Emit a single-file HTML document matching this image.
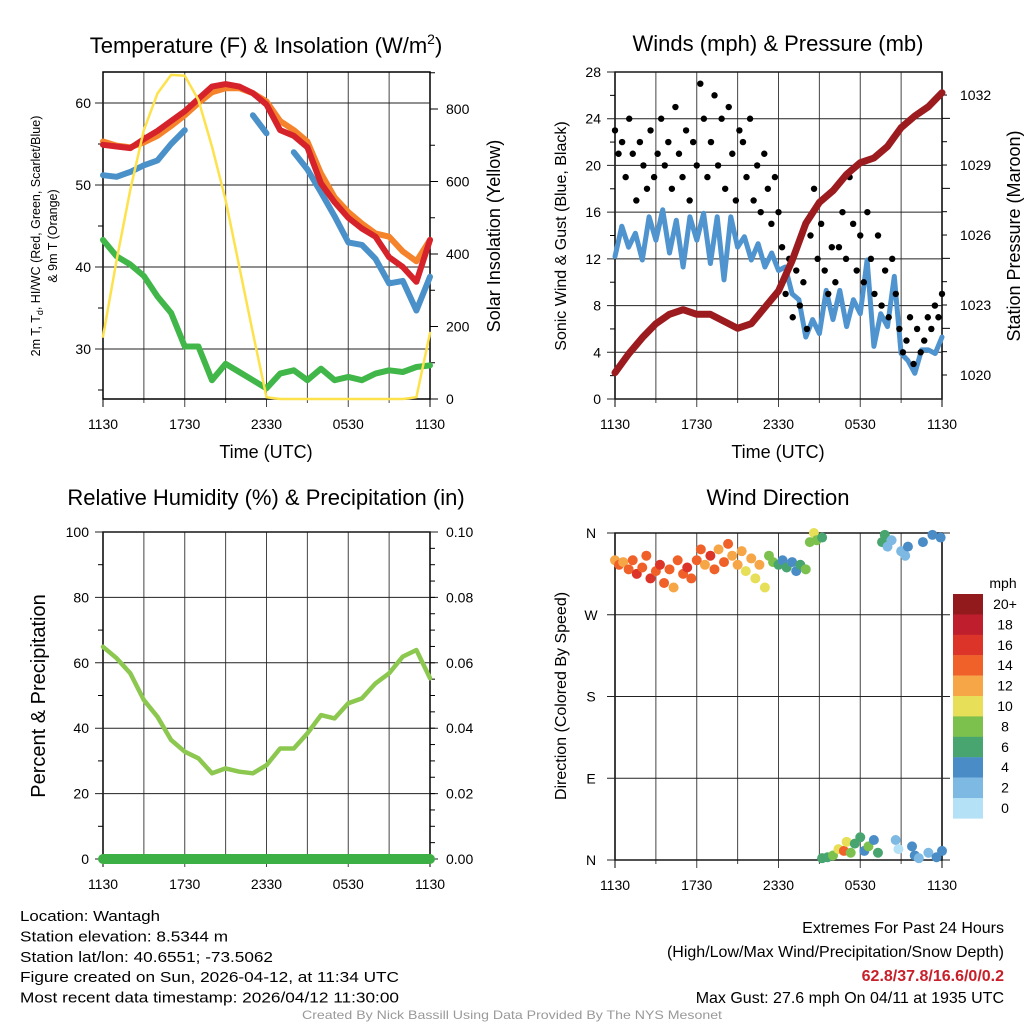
<!DOCTYPE html>
<html><head><meta charset="utf-8"><style>
html,body{margin:0;padding:0;background:#fff;}
svg{display:block;font-family:"Liberation Sans",Arial,sans-serif;}
</style></head><body>
<svg id="c" width="1024" height="1024" viewBox="0 0 1024 1024" xmlns="http://www.w3.org/2000/svg"></svg>
<script>
// ---------- DATA ----------
const hours = [0,1,2,3,4,5,6,7,8,9,10,11,12,13,14,15,16,17,18,19,20,21,22,23,24];
const tempRed = [54.9,54.7,54.5,55.6,56.6,57.8,59.0,60.5,62.0,62.3,62.0,61.2,59.8,56.7,56.0,54.6,50.2,47.9,46.0,44.7,43.7,41.2,40.0,38.2,43.3];
const tempOrange = [55.3,54.8,54.6,55.2,56.0,57.2,58.5,60.0,61.3,61.8,61.8,61.2,60.2,57.8,56.7,55.3,51.4,48.5,46.7,45.3,44.1,43.7,41.9,40.7,43.3];
const tempBlue = [51.2,51.0,51.6,52.4,53.0,55.0,56.7,null,null,null,null,58.5,56.3,null,54.0,51.9,49.1,46.2,43.0,42.7,41.0,38.0,38.3,34.7,38.8];
const dewGreen = [43.3,41.3,40.3,38.9,36.4,34.4,30.3,30.3,26.2,28.2,27.2,26.2,25.2,27.0,27.4,26.2,27.6,26.2,26.6,26.2,27.0,27.4,27.2,27.8,28.0];
const insolation = [172,383,577,742,843,894,892,825,696,549,365,182,5,0,0,0,0,0,0,0,0,0,0,5,182];
const pressure = [1020.1,1020.9,1021.6,1022.2,1022.6,1022.8,1022.6,1022.6,1022.3,1022.0,1022.2,1022.9,1023.6,1024.9,1026.5,1027.4,1027.9,1028.6,1029.1,1029.3,1029.8,1030.6,1031.1,1031.5,1032.1];
const windSpeed = [12.2,14.8,13.0,14.2,11.9,15.6,13.6,16.2,12.5,15.3,11.3,15.6,13.6,15.9,11.6,15.6,10.2,15.6,13.0,13.9,11.9,13.3,11.3,12.5,11.0,11.3,9.0,8.5,5.3,6.8,5.6,9.3,6.8,9.3,6.2,8.5,7.3,11.9,4.5,7.3,6.2,10.5,3.9,3.3,2.2,4.2,4.2,3.9,5.3];
const gusts = [23,21,22,19,24,21,17,22,20,18,23,19,21,24,20,22,18,25,21,19,23,17,22,20,27,24,19,22,26,20,24,18,25,21,17,23,22,19,24,17,20,16,21,18,15,19,16,13,9,12,7,11,8,10,6,14,18,12,15,11,9,13,10,13,16,12,19,15,11,14,10,16,12,9,14,8,11,7,12,9,6,4,5,7,3,6,4,5,7,6,8,7,9];
const rh = [64.9,61.4,56.8,48.6,43.5,36.4,32.8,30.8,26.2,27.7,26.7,26.2,28.7,33.8,33.8,38.4,44.0,43.0,47.6,49.1,53.7,56.8,61.9,63.9,55.3];
const precip = [0,0,0,0,0,0,0,0,0,0,0,0,0,0,0,0,0,0,0,0,0,0,0,0,0];
const dirHours = [0,0.3,0.6,1,1.3,1.6,2,2.3,2.6,3,3.3,3.6,4,4.3,4.6,5,5.3,5.6,6,6.3,6.6,7,7.3,7.6,8,8.3,8.6,9,9.3,9.6,10,10.3,10.6,11,11.3,11.6,12,12.3,12.6,13,13.3,13.6,14,14.3,14.6,14.8,15.2,15.2,15.6,16,16.4,16.8,17,17.3,17.6,18,18.3,18.6,19,19.3,19.6,19.8,20,20.3,20.6,20.8,21,21.3,21.5,21.8,22,22.3,22.6,23,23.3,23.6,23.9,24];
const dirDeg = [330,325,328,320,330,315,322,335,310,318,325,305,320,300,330,315,322,310,330,342,325,335,320,342,328,348,335,325,340,318,332,310,325,300,335,328,325,330,322,328,318,325,320,350,360,352,355,2,3,5,12,10,20,8,18,25,10,15,22,8,350,358,345,352,22,12,340,335,345,15,5,2,350,8,358,3,355,10];
const dirSpeed = [13,14,13,15,14,16,15,14,16,14,17,15,14,12,14,15,16,14,15,14,13,17,14,13,15,14,12,13,12,11,12,10,12,10,8,9,6,4,6,4,5,6,8,8,10,9,6,7,6,8,10,14,11,8,7,6,5,9,4,6,7,6,3,2,2,1,2,3,4,4,4,3,4,2,4,5,4,4];
const speedLabels = ["20+","18","16","14","12","10","8","6","4","2","0"];
const speedColors = ["#921a1d","#bf1e2d","#dd3429","#ef6129","#f6a646","#e6df57","#7cc14d","#48a56f","#4a8dc6","#7db9e3","#b4e1f6"];
const timeLabels = ["1130","1730","2330","0530","1130"];

// ---------- HELPERS ----------
const NS="http://www.w3.org/2000/svg";
const svg=document.getElementById('c');
function mk(tag,attrs,parent){const e=document.createElementNS(NS,tag);for(const k in attrs)e.setAttribute(k,attrs[k]);(parent||svg).appendChild(e);return e;}
function txt(s,x,y,size,anchor,extra){const e=mk('text',Object.assign({x:x,y:y,'font-size':size,'text-anchor':anchor||'middle',fill:'#000'},extra||{}));e.textContent=s;return e;}
function lin(x1,y1,x2,y2,col,w){return mk('line',{x1:x1,y1:y1,x2:x2,y2:y2,stroke:col||'#000','stroke-width':w||1});}
function poly(xs,ys,fx,fy,col,w){let segs=[],cur=[];for(let i=0;i<xs.length;i++){if(ys[i]===null){if(cur.length)segs.push(cur);cur=[];continue;}cur.push(fx(xs[i]).toFixed(1)+','+fy(ys[i]).toFixed(1));}if(cur.length)segs.push(cur);return segs.map(s=>mk('polyline',{points:s.join(' '),fill:'none',stroke:col,'stroke-width':w,'stroke-linejoin':'round','stroke-linecap':'round'}));}
function speedColor(s){let i=Math.floor(s/2);if(i>10)i=10;return speedColors[10-i];}

function frame(P,name){
  for(let h=3;h<24;h+=3){const x=P.x0+(P.x1-P.x0)*h/24;const l=lin(x,P.y0,x,P.y1+(h%6==0?8:4),'#444',1);}
  const r=mk('rect',{x:P.x0,y:P.y0,width:P.x1-P.x0,height:P.y1-P.y0,fill:'none',stroke:'#000','stroke-width':1.5});
  
  
  lin(P.x0,P.y1,P.x0,P.y1+8);lin(P.x1,P.y1,P.x1,P.y1+8);
  for(let i=0;i<5;i++){const x=P.x0+(P.x1-P.x0)*i/4;const t=txt(timeLabels[i],x,P.y1+30,14);}
}
function rot(s,x,y,size,name){const t=txt(s,x,y,size,'middle',{transform:'rotate(-90 '+x+' '+y+')'});return t;}

// ---------- PANEL 1: Temperature ----------
const P1={x0:103,x1:430,y0:72,y1:399};
const x1f=h=>P1.x0+(P1.x1-P1.x0)*h/24;
const tY=T=>103+(60-T)*8.2;
const iY=I=>399-I*0.3625;
frame(P1,'temp-panel');
[30,40,50,60].forEach(v=>{lin(P1.x0-8,tY(v),P1.x1,tY(v),'#222',1);const t=txt(String(v),P1.x0-12,tY(v)+5,14,'end');});
[25,35,45,55].forEach(v=>lin(P1.x0-5,tY(v),P1.x0,tY(v)));
for(let v=0;v<=900;v+=100){lin(P1.x1,iY(v),P1.x1+(v%200==0?8:5),iY(v));}
[0,200,400,600,800].forEach(v=>{const t=txt(String(v),P1.x1+16,iY(v)+5,14,'start');});
let s;
s=poly(hours,dewGreen,x1f,tY,'#41b649',6);s.forEach(e=>{});
s=poly(hours,tempBlue,x1f,tY,'#4a90c9',6);s.forEach(e=>{});
s=poly(hours,tempOrange,x1f,tY,'#f5832b',6);s.forEach(e=>{});
s=poly(hours,tempRed,x1f,tY,'#d6222a',6);s.forEach(e=>{});
s=poly(hours,insolation,x1f,iY,'#fde24c',2.5);s.forEach(e=>{});
let t;
t=mk('text',{x:266,y:53,'font-size':22,'text-anchor':'middle'});t.innerHTML='Temperature (F) &amp; Insolation (W/m<tspan dy="-9" font-size="14">2</tspan><tspan dy="9">)</tspan>';


t=txt('Time (UTC)',266,458,18);
t=mk('text',{x:40,y:236,'font-size':12.5,'text-anchor':'middle',transform:'rotate(-90 40 236)'});t.innerHTML='2m T, T<tspan dy="3" font-size="9">d</tspan><tspan dy="-3">, HI/WC (Red, Green, Scarlet/Blue)</tspan>';


rot('& 9m T (Orange)',57,236,12.5,'temp-y-axis-title-line2');
rot('Solar Insolation (Yellow)',500,236,18,'insolation-y-axis-title');

// ---------- PANEL 2: Winds ----------
const P2={x0:615,x1:942,y0:72,y1:399};
const x2f=h=>P2.x0+(P2.x1-P2.x0)*h/24;
const wY=v=>399-v*327/28;
const pY=p=>375-(p-1020)*23.33;
frame(P2,'wind-panel');
for(let v=0;v<=28;v+=4){lin(P2.x0-8,wY(v),P2.x1,wY(v),'#222',1);t=txt(String(v),P2.x0-14,wY(v)+5,14,'end');}
for(let v=2;v<28;v+=4)lin(P2.x0-5,wY(v),P2.x0,wY(v));
for(let p=1020;p<=1032;p++){lin(P2.x1,pY(p),P2.x1+(p%3==2?8:5),pY(p));}
[1020,1023,1026,1029,1032].forEach(p=>{t=txt(String(p),P2.x1+18,pY(p)+5,14,'start');});
const windHours=windSpeed.map((v,i)=>i*24/(windSpeed.length-1));
s=poly(windHours,windSpeed,x2f,wY,'#4f94cf',5);s.forEach(e=>{});
gusts.forEach((g,i)=>{const c=mk('circle',{cx:x2f(i*24/(gusts.length-1)),cy:wY(g),r:3.2,fill:'#000'});

});
s=poly(hours,pressure,x2f,pY,'#9b1b1e',7);s.forEach(e=>{});
t=txt('Winds (mph) & Pressure (mb)',778,51,22);
t=txt('Time (UTC)',778,458,18);
rot('Sonic Wind & Gust (Blue, Black)',566,236,16,'wind-y-axis-title');
rot('Station Pressure (Maroon)',1020,236,18,'pressure-y-axis-title');

// ---------- PANEL 3: RH ----------
const P3={x0:103,x1:430,y0:532,y1:859};
const x3f=h=>P3.x0+(P3.x1-P3.x0)*h/24;
const rY=v=>859-v*3.27;
const prY=p=>859-p*3270;
frame(P3,'rh-panel');
for(let v=0;v<=100;v+=20){lin(P3.x0-8,rY(v),P3.x1+8,rY(v),'#222',1);t=txt(String(v),P3.x0-14,rY(v)+5,14,'end');}
for(let v=10;v<100;v+=20)lin(P3.x0-5,rY(v),P3.x0,rY(v));
for(let k=1;k<20;k++)lin(P3.x1,prY(k*0.005),P3.x1+5,prY(k*0.005));
for(let k=0;k<=5;k++){t=txt((k*0.02).toFixed(2),P3.x1+16,prY(k*0.02)+5,14,'start');}
s=poly(hours,rh,x3f,rY,'#8cc84f',4.5);s.forEach(e=>{});
s=poly(hours,precip,x3f,prY,'#3cb044',10);s.forEach(e=>{});
t=txt('Relative Humidity (%) & Precipitation (in)',266,505,22);
rot('Percent & Precipitation',45,696,20,'rh-y-axis-title');

// ---------- PANEL 4: Wind Direction ----------
const P4={x0:615,x1:942,y0:533,y1:860};
const x4f=h=>P4.x0+(P4.x1-P4.x0)*h/24;
const dY=d=>860-d*327/360;
frame(P4,'direction-panel');
[['N',360],['W',270],['S',180],['E',90],['N',0]].forEach(a=>{lin(P4.x0-8,dY(a[1]),P4.x1+8,dY(a[1]),'#222',1);t=txt(a[0],P4.x0-24,dY(a[1])+5,14,'middle');});
dirHours.forEach((h,i)=>{const c=mk('circle',{cx:x4f(h),cy:dY(dirDeg[i]),r:5,fill:speedColor(dirSpeed[i])});

});
t=txt('Wind Direction',778,505,22);
rot('Direction (Colored By Speed)',566,696,16,'direction-y-axis-title');
t=txt('mph',1003,588,14);
speedLabels.forEach((lab,i)=>{const y=594+i*20.4;const r=mk('rect',{x:953,y:y,width:30,height:20.6,fill:speedColors[i]});


t=txt(lab,1005,y+15,14);});

// ---------- FOOTER ----------
const leftLines=['Location: Wantagh','Station elevation: 8.5344 m','Station lat/lon: 40.6551; -73.5062','Figure created on Sun, 2026-04-12, at 11:34 UTC','Most recent data timestamp: 2026/04/12 11:30:00'];
const leftW=[140,208,253,379,379];
leftLines.forEach((l,i)=>{t=txt(l,20,921+i*20.4,15,'start',{textLength:leftW[i],lengthAdjust:'spacingAndGlyphs'});});
t=txt('Extremes For Past 24 Hours',1004,933,16,'end');
t=txt('(High/Low/Max Wind/Precipitation/Snow Depth)',1004,957,16,'end');
t=txt('62.8/37.8/16.6/0/0.2',1004,981,16,'end',{fill:'#c8202a','font-weight':'bold'});
t=txt('Max Gust: 27.6 mph On 04/11 at 1935 UTC',1004,1003,16,'end');
t=txt('Created By Nick Bassill Using Data Provided By The NYS Mesonet',512,1019,12,'middle',{fill:'#999',textLength:420,lengthAdjust:'spacingAndGlyphs'});
</script>
</body></html>
